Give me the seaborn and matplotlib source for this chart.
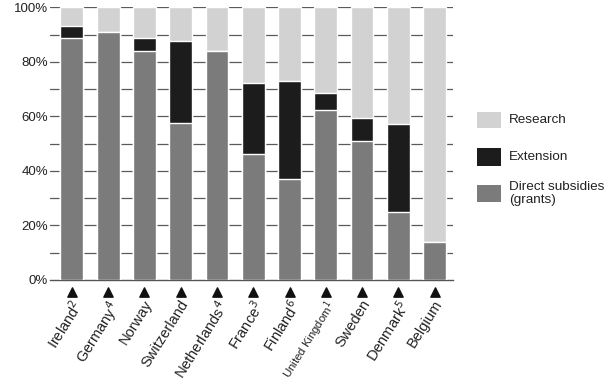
import matplotlib
matplotlib.use("Agg")
import matplotlib.pyplot as plt
import seaborn as sns
import pandas as pd
import numpy as np
from matplotlib.patches import Rectangle

countries = ["Ireland", "Germany", "Norway", "Switzerland", "Netherlands", "France",
             "Finland", "United Kingdom", "Sweden", "Denmark", "Belgium"]
labels = ["Ireland$^{2}$", "Germany$^{4}$", "Norway", "Switzerland", "Netherlands$^{4}$",
          "France$^{3}$", "Finland$^{6}$", "United Kingdom$^{1}$", "Sweden", "Denmark$^{5}$", "Belgium"]
direct = [88.7, 91.0, 84.1, 57.7, 84.0, 46.2, 37.1, 62.5, 51.1, 24.8, 13.8]
extension = [4.5, 0.0, 4.8, 29.9, 0.0, 26.1, 35.9, 6.1, 8.3, 32.4, 0.0]
research = [100 - d - e for d, e in zip(direct, extension)]
legend_labels = ["Research", "Extension", "Direct subsidies\n(grants)"]

c_direct = "#7b7b7b"
c_ext = "#1c1c1c"
c_res = "#d2d2d2"

sns.set_theme(style="white")
plt.rcParams['font.family'] = ['Liberation Sans', 'DejaVu Sans']

W, H = 611, 385
fig = plt.figure(figsize=(6.11, 3.85), dpi=100)
ax = fig.add_axes([0.082, 0.273, 0.659, 0.708])

df = pd.DataFrame({"country": countries, "direct": direct, "extension": extension,
                   "research": research})
df["top_ext"] = df["direct"] + df["extension"]
df["total"] = df["top_ext"] + df["research"]

for v in range(10, 101, 10):
    ax.axhline(v, color="#5a5a5a", lw=0.9, zorder=0)

w = 0.63
sns.barplot(data=df, x="country", y="total", color=c_res, width=w, saturation=1, ax=ax, zorder=2)
sns.barplot(data=df, x="country", y="top_ext", color=c_ext, width=w, saturation=1, ax=ax, zorder=3)
sns.barplot(data=df, x="country", y="direct", color=c_direct, width=w, saturation=1, ax=ax, zorder=4)

ax.set_xlim(-0.6, 10.5)
ax.set_ylim(0, 100)
ax.set_yticks(range(0, 101, 20))
ax.set_yticklabels([f"{v}%" for v in range(0, 101, 20)], fontsize=9.5, color="#222222")
ax.tick_params(axis="y", length=0, pad=1.5)
ax.set_xlabel("")
ax.set_ylabel("")
for s in ["top", "right", "left"]:
    ax.spines[s].set_visible(False)
ax.spines["bottom"].set_color("#555555")
ax.spines["bottom"].set_linewidth(1.0)

xs = np.arange(len(countries))
ax.scatter(xs, [-0.045] * len(xs), marker="^", s=45, color="#111111",
           transform=ax.get_xaxis_transform(), clip_on=False, zorder=5)

ax.set_xticks(xs)
ax.set_xticklabels([])
ax.tick_params(axis="x", length=0)
for i, lab in enumerate(labels):
    fs = 8.2 if "Kingdom" in lab else 10.5
    ax.text(i - 0.03, -0.065, lab, transform=ax.get_xaxis_transform(), rotation=58,
            ha="right", va="top", rotation_mode="anchor", fontsize=fs, color="#222222")

# legend drawn manually (pixel layout of the reference)
leg_colors = [c_res, c_ext, c_direct]
leg_boxes = [(112, 128), (148, 166), (185, 202)]
for col, (y0, y1), lab in zip(leg_colors, leg_boxes, legend_labels):
    fig.add_artist(Rectangle((477 / W, 1 - y1 / H), 24 / W, (y1 - y0) / H,
                             transform=fig.transFigure, facecolor=col, edgecolor="none"))
    fig.text(509 / W, 1 - (y0 + y1) / 2 / H, lab, ha="left", va="center",
             fontsize=9.7, color="#222222", linespacing=1.1)

fig.savefig("out.png", dpi=100)
